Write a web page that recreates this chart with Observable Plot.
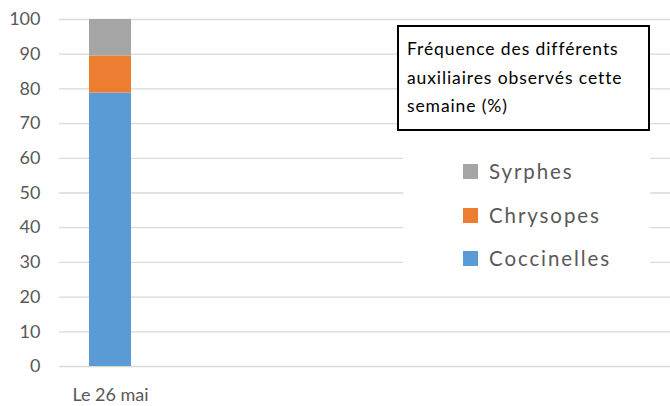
<!DOCTYPE html>
<html>
<head>
<meta charset="utf-8">
<script src="https://cdn.jsdelivr.net/npm/d3@7"></script>
<script src="https://cdn.jsdelivr.net/npm/@observablehq/plot@0.6"></script>
<style>
  body { margin: 0; background: #fff; }
  #wrap { position: relative; width: 670px; height: 406px; font-family: Lato, "Open Sans", sans-serif; }
  #box { position: absolute; left: 397px; top: 25px; width: 253px; height: 106px; border: 2px solid #000; background: #fff; box-sizing: border-box; padding: 8px 8px; font-size: 17.5px; line-height: 28.5px; letter-spacing: 0.9px; color: #000; }
  #legend { position: absolute; left: 403px; top: 142px; width: 247px; height: 140px; background: #fff; }
  .item { position: absolute; left: 60px; height: 22px; display: flex; align-items: center; font-size: 20.5px; color: #595959; letter-spacing: 1.9px; }
  .sw { width: 15px; height: 15px; margin-right: 11px; }
</style>
</head>
<body>
<div id="wrap"></div>
<script>
const categories = ["Le 26 mai"];
const series = ["Coccinelles", "Chrysopes", "Syrphes"];
const values = {Coccinelles: [78.8], Chrysopes: [10.7], Syrphes: [10.5]};
const colors = ["#5b9bd5", "#ed7d31", "#a5a5a5"];
const yTicks = [0, 10, 20, 30, 40, 50, 60, 70, 80, 90, 100];
const title = "Fréquence des différents auxiliaires observés cette semaine (%)";

const data = [];
series.forEach(s => categories.forEach((c, i) => data.push({cat: c, serie: s, value: values[s][i]})));

const chart = Plot.plot({
  width: 670,
  height: 406,
  marginLeft: 59,
  marginRight: 0,
  marginTop: 19,
  marginBottom: 40,
  style: {fontFamily: "Lato, 'Open Sans', sans-serif", fontSize: "18px", color: "#595959", background: "#fff"},
  x: {domain: categories, range: [89, 131], padding: 0, label: null, tickSize: 0, tickPadding: 22},
  y: {domain: [0, 100], ticks: yTicks, label: null, tickSize: 0, tickPadding: 19},
  color: {domain: series, range: colors},
  marks: [
    Plot.gridY(yTicks, {stroke: "#d9d9d9", strokeOpacity: 1, strokeWidth: 1.3}),
    Plot.barY(data, {x: "cat", y: "value", fill: "serie", order: series, inset: 0})
  ]
});
const wrap = document.getElementById("wrap");
wrap.appendChild(chart);

const box = document.createElement("div");
box.id = "box";
box.textContent = title;
wrap.appendChild(box);

const legend = document.createElement("div");
legend.id = "legend";
const legendOrder = ["Syrphes", "Chrysopes", "Coccinelles"];
const legendTops = [18, 62, 105];
legendOrder.forEach((s, i) => {
  const it = document.createElement("div");
  it.className = "item";
  it.style.top = legendTops[i] + "px";
  const sw = document.createElement("span");
  sw.className = "sw";
  sw.style.background = colors[series.indexOf(s)];
  it.appendChild(sw);
  it.appendChild(document.createTextNode(s));
  legend.appendChild(it);
});
wrap.appendChild(legend);
</script>
</body>
</html>
